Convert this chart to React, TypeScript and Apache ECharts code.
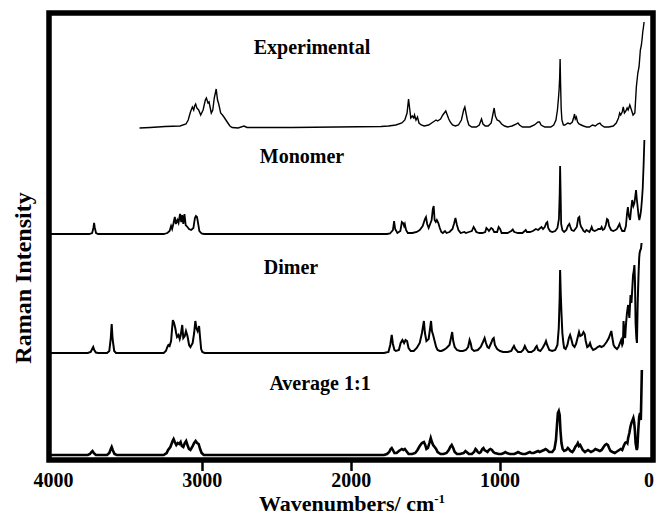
import React, { useEffect, useRef } from "react";
import * as echarts from "echarts";

// Wavenumber (cm-1), intensity above each trace's own baseline (arbitrary units)
const experimental: [number, number][] = [
  [3422,0],[3350,0.5],[3250,1.5],[3150,2],[3110,4],[3095,8],[3080,16],[3067,21],[3058,18],[3052,22],[3045,24],[3037,20],[3025,18],[3011,13],[2995,18],[2980,28],[2973,30],[2962,25],[2955,26],[2940,15],[2930,18],[2920,30],[2907,39],[2898,28],[2890,24],[2877,15],[2865,13],[2855,11],[2833,6],[2815,2],[2800,0.5],[2760,0],[2720,2],[2700,0.5],[2400,0.5],[2100,1],[1800,1.5],
  [1750,2],[1700,3],[1660,5],[1640,8],[1625,15],[1615,29],[1608,20],[1600,10],[1590,12],[1580,10],[1575,13],[1565,8],[1555,11],[1545,5],[1530,3],[1510,2],[1480,3],[1450,6],[1430,8],[1420,7],[1400,9],[1385,13],[1375,15],[1365,17],[1355,13],[1345,9],[1335,6],[1320,3],[1300,2],[1280,3],[1260,8],[1245,18],[1237,21],[1228,14],[1220,8],[1210,3],[1190,1],[1160,1],[1140,3],[1125,9],[1115,4],[1100,2],[1080,2],[1060,5],[1048,14],[1040,20],[1032,12],[1020,8],[1005,7],[990,4],[970,2],[950,1],[920,2],[890,4],[880,5],[870,3],[850,1],[800,1],[770,3],[745,6],[735,6],[725,3],[700,1],[660,1],[640,3],[625,8],[615,18],[608,30],[604,38],[600,50],[597,69],[594,45],[590,20],[585,8],[575,3],[565,3],[545,5],[530,4],[515,6],[505,11],[500,14],[495,9],[488,11],[480,6],[470,4],[455,3],[440,2],[420,1],[400,1],[380,3],[360,2],[345,4],[330,5],[320,3],[300,1],[270,1],[240,2],[220,5],[205,10],[197,15],[190,13],[180,16],[173,21],[165,15],[155,17],[147,20],[140,18],[129,23],[120,19],[107,13],[95,15],[85,41],[75,55],[67,61],[58,78],[51,83],[45,91],[42,96],[38,100],[33,106]
];

const monomer: [number, number][] = [
  [4030,0],[3760,0],[3740,1],[3732,6],[3727,11],[3722,6],[3714,1],[3700,0],[3260,0],[3235,1],[3220,3],[3210,8],[3203,5],[3195,10],[3185,17],[3178,10],[3168,14],[3160,11],[3150,20],[3142,12],[3135,19],[3128,10],[3120,20],[3112,9],[3100,7],[3090,5],[3075,4],[3060,6],[3050,16],[3043,18],[3036,17],[3030,12],[3020,3],[3005,0.5],[2990,0],
  [1760,0],[1740,0.5],[1720,4],[1712,13],[1705,5],[1690,1],[1670,3],[1660,12],[1652,11],[1645,8],[1640,10],[1632,4],[1620,1],[1590,1],[1560,2],[1540,4],[1520,8],[1505,15],[1498,17],[1490,10],[1480,6],[1470,10],[1460,14],[1452,25],[1446,28],[1440,14],[1432,12],[1425,14],[1415,11],[1405,6],[1395,2],[1385,1],[1370,3],[1360,1],[1340,2],[1320,5],[1310,10],[1300,16],[1290,9],[1280,4],[1265,1],[1240,2],[1230,1],[1210,2],[1190,3],[1178,7],[1170,5],[1160,2],[1140,1],[1120,1],[1100,2],[1092,6],[1085,5],[1075,3],[1060,6],[1050,5],[1040,2],[1020,2],[1010,7],[1000,5],[990,1],[950,1],[925,3],[915,4.5],[905,2],[880,1],[850,1],[835,3],[828,4],[820,2],[800,2],[780,3],[770,4],[760,5],[745,4],[730,6],[722,7],[712,5],[700,7],[690,11],[683,12],[677,6],[665,3],[650,2],[630,3],[615,6],[605,15],[600,40],[597,68],[594,45],[590,10],[582,4],[570,2],[555,4],[545,8],[535,10],[528,7],[520,4],[505,3],[495,5],[485,7],[475,16],[468,17],[462,10],[455,7],[450,6],[440,3],[430,2],[420,4],[410,3],[400,2],[390,5],[385,7],[378,4],[365,3],[350,4],[340,5],[325,5],[318,7],[310,4],[300,5],[290,9],[282,15],[275,14],[268,8],[255,4],[240,3],[225,4],[215,5],[205,8],[198,10],[190,6],[180,3],[165,3],[155,8],[148,20],[142,27],[135,18],[127,14],[120,25],[113,34],[105,28],[98,31],[92,38],[87,44],[82,35],[76,27],[70,18],[65,14],[59,18],[53,24],[47,35],[42,46],[36,70],[31,94]
];

const dimer: [number, number][] = [
  [4030,0],[3770,0],[3750,1],[3740,4],[3733,6],[3726,3],[3715,0.5],[3700,0],[3640,0],[3625,2],[3615,15],[3609,29],[3603,14],[3592,2],[3580,0],[3260,0],[3245,2],[3235,6],[3228,8],[3220,7],[3210,12],[3203,25],[3198,33],[3190,30],[3182,25],[3176,20],[3170,16],[3160,18],[3152,14],[3145,18],[3135,28],[3128,15],[3118,17],[3110,22],[3100,17],[3089,8],[3080,6],[3065,10],[3055,20],[3047,32],[3040,25],[3032,22],[3022,27],[3015,15],[3008,4],[3000,1],[2985,0],
  [1780,0],[1750,1],[1738,8],[1728,18],[1720,9],[1710,3],[1700,2],[1680,3],[1668,10],[1656,13],[1645,10],[1635,13],[1625,12],[1615,5],[1600,2],[1580,2],[1560,5],[1540,10],[1525,20],[1512,32],[1505,20],[1495,12],[1480,14],[1470,25],[1464,32],[1458,22],[1450,18],[1440,12],[1430,6],[1420,3],[1405,2],[1395,2],[1380,3],[1360,5],[1340,8],[1330,15],[1322,21],[1315,12],[1305,6],[1290,3],[1270,2],[1250,2],[1230,3],[1215,6],[1205,13],[1198,10],[1190,4],[1175,2],[1150,3],[1130,6],[1115,11],[1104,15],[1095,10],[1085,6],[1075,5],[1060,10],[1050,14],[1043,15],[1035,8],[1020,4],[1000,2],[980,1],[950,1],[925,2],[915,5],[907,7],[898,4],[880,1],[860,1],[845,3],[834,7],[825,4],[810,1],[790,1],[770,3],[760,6],[754,7],[745,3],[730,2],[715,5],[700,9],[692,12],[684,8],[670,3],[650,2],[630,3],[615,8],[606,25],[600,55],[597,83],[593,60],[588,40],[582,20],[575,10],[570,5],[560,4],[548,8],[538,15],[530,18],[522,14],[512,8],[500,6],[490,9],[480,15],[470,21],[462,17],[450,18],[440,21],[432,19],[425,12],[415,6],[405,7],[396,10],[388,6],[375,3],[360,4],[345,6],[330,7],[320,6],[305,7],[295,9],[285,11],[270,15],[258,20],[253,22],[246,15],[238,8],[230,6],[215,4],[205,6],[195,10],[187,13],[180,8],[175,10],[171,32],[165,20],[160,15],[155,28],[148,40],[140,48],[132,35],[124,58],[118,50],[112,65],[107,78],[102,82],[98,88],[94,70],[90,30],[85,15],[81,10],[76,50],[70,80],[66,95],[63,100],[58,103],[54,104],[50,110]
];

const average: [number, number][] = [
  [4030,0],[3770,0],[3755,1],[3745,3],[3738,4],[3730,2],[3715,0],[3640,0],[3625,2],[3615,6],[3609,8],[3602,5],[3590,1],[3575,0],[3260,0],[3240,2],[3230,5],[3215,8],[3200,14],[3193,16],[3185,13],[3175,10],[3165,12],[3155,11],[3146,13],[3138,9],[3128,8],[3118,12],[3109,14],[3100,10],[3090,6],[3080,5],[3068,8],[3055,12],[3045,14],[3035,12],[3025,11],[3015,6],[3005,2],[2990,0],
  [1780,0],[1760,1],[1745,3],[1735,6],[1728,7],[1720,5],[1710,2],[1695,2],[1680,4],[1670,5],[1660,6],[1650,5],[1640,6],[1630,4],[1615,1],[1590,1],[1570,2],[1555,5],[1540,9],[1525,12],[1512,13],[1503,10],[1495,6],[1485,7],[1475,12],[1466,17],[1458,13],[1450,10],[1440,8],[1430,6],[1420,3],[1400,1],[1380,1],[1360,2],[1345,5],[1335,8],[1325,10],[1315,7],[1305,3],[1290,1],[1270,1],[1245,2],[1233,4],[1225,3],[1210,1],[1190,1],[1175,3],[1165,6],[1158,5],[1150,3],[1140,2],[1130,3],[1120,6],[1112,7],[1105,5],[1095,4],[1085,3],[1075,5],[1065,6],[1055,5],[1045,3],[1035,2],[1010,1],[990,1],[975,2],[965,3],[955,2],[935,1],[905,1],[890,2],[880,3],[868,2],[850,1],[830,1],[815,2],[800,3],[790,2],[775,2],[760,3],[745,4],[735,3],[720,4],[705,5],[695,6],[685,5],[670,3],[650,3],[635,6],[625,15],[618,30],[612,42],[606,44],[600,40],[595,25],[588,12],[580,6],[570,4],[555,5],[545,7],[538,6],[528,4],[515,3],[505,5],[495,8],[485,10],[478,12],[470,9],[462,10],[455,8],[445,5],[430,3],[420,4],[410,5],[400,4],[390,3],[375,4],[360,6],[345,5],[330,4],[318,5],[305,8],[295,10],[285,11],[276,10],[268,7],[258,4],[245,3],[230,2],[220,3],[210,4],[200,5],[190,6],[180,5],[170,9],[160,12],[150,13],[145,12],[140,17],[132,22],[125,28],[118,32],[110,35],[105,37],[100,33],[95,25],[90,12],[82,5],[78,8],[72,25],[66,38],[60,42],[55,35],[52,55],[48,85]
];

const traceNames = ["Experimental", "Monomer", "Dimer", "Average 1:1"];
const xTickLabels = [0, 1000, 2000, 3000, 4000];
const xTickMarks = [1000, 2000, 3000];
const xAxisTitle = "Wavenumbers/ cm";
const xAxisTitleSup = "-1";
const yAxisTitle = "Raman Intensity";

const FONT = "'Liberation Serif', 'Times New Roman', serif";

export default function App() {
  const ref = useRef<HTMLDivElement>(null);
  useEffect(() => {
    if (!ref.current) return;
    const chart = echarts.init(ref.current, null, { renderer: "svg" });
    const traces = [
      { data: experimental, base: 332, width: 1.4, label: { x: 312, y: 47 } },
      { data: monomer, base: 226, width: 1.8, label: { x: 302, y: 156 } },
      { data: dimer, base: 107, width: 2.0, label: { x: 291, y: 267 } },
      { data: average, base: 5, width: 2.6, label: { x: 320, y: 383 } },
    ];
    chart.setOption({
      animation: false,
      backgroundColor: "#ffffff",
      grid: { left: 49, right: 4, top: 13, bottom: 57 },
      xAxis: {
        type: "value",
        inverse: true,
        min: 0,
        max: 4030,
        axisLine: { show: false },
        splitLine: { show: false },
        axisTick: {
          show: true,
          customValues: xTickMarks,
          length: 11,
          lineStyle: { color: "#000", width: 2.5 },
        },
        axisLabel: {
          customValues: xTickLabels,
          formatter: (v: number) => String(v),
          margin: 10,
          color: "#000",
          fontSize: 20,
          fontWeight: "bold",
          fontFamily: FONT,
        },
      },
      yAxis: { type: "value", min: 0, max: 447, show: false },
      series: traces.map((t, i) => ({
        type: "line",
        name: traceNames[i],
        showSymbol: false,
        symbol: "none",
        lineStyle: { color: "#000", width: t.width, join: "miter", miterLimit: 4 },
        data: t.data.map(([w, h]) => [w, h + t.base]),
      })),
      graphic: [
        {
          type: "rect",
          z: 100,
          shape: { x: 49, y: 13, width: 604, height: 447 },
          style: { fill: "none", stroke: "#000", lineWidth: 5.5 },
        },
        ...traces.map((t, i) => ({
          type: "text",
          z: 100,
          x: t.label.x,
          y: t.label.y,
          style: {
            text: traceNames[i],
            fill: "#000",
            font: `bold 20px ${FONT}`,
            textAlign: "center",
            textVerticalAlign: "middle",
          },
        })),
        {
          type: "text",
          z: 100,
          x: 352,
          y: 503,
          style: {
            text: `{a|${xAxisTitle}}{b|${xAxisTitleSup}}`,
            textAlign: "center",
            textVerticalAlign: "middle",
            rich: {
              a: { fontSize: 22, fontWeight: "bold", fontFamily: FONT, fill: "#000", lineHeight: 23 },
              b: { fontSize: 13, fontWeight: "bold", fontFamily: FONT, fill: "#000", verticalAlign: "top", lineHeight: 13 },
            },
          },
        },
        {
          type: "text",
          z: 100,
          x: 23,
          y: 278,
          rotation: Math.PI / 2,
          style: {
            text: yAxisTitle,
            fill: "#000",
            font: `bold 24px ${FONT}`,
            textAlign: "center",
            textVerticalAlign: "middle",
          },
        },
      ],
    });
    return () => chart.dispose();
  }, []);
  return (
    <div
      ref={ref}
      style={{ position: "fixed", left: 0, top: 0, width: 657, height: 517, background: "#fff" }}
    />
  );
}
